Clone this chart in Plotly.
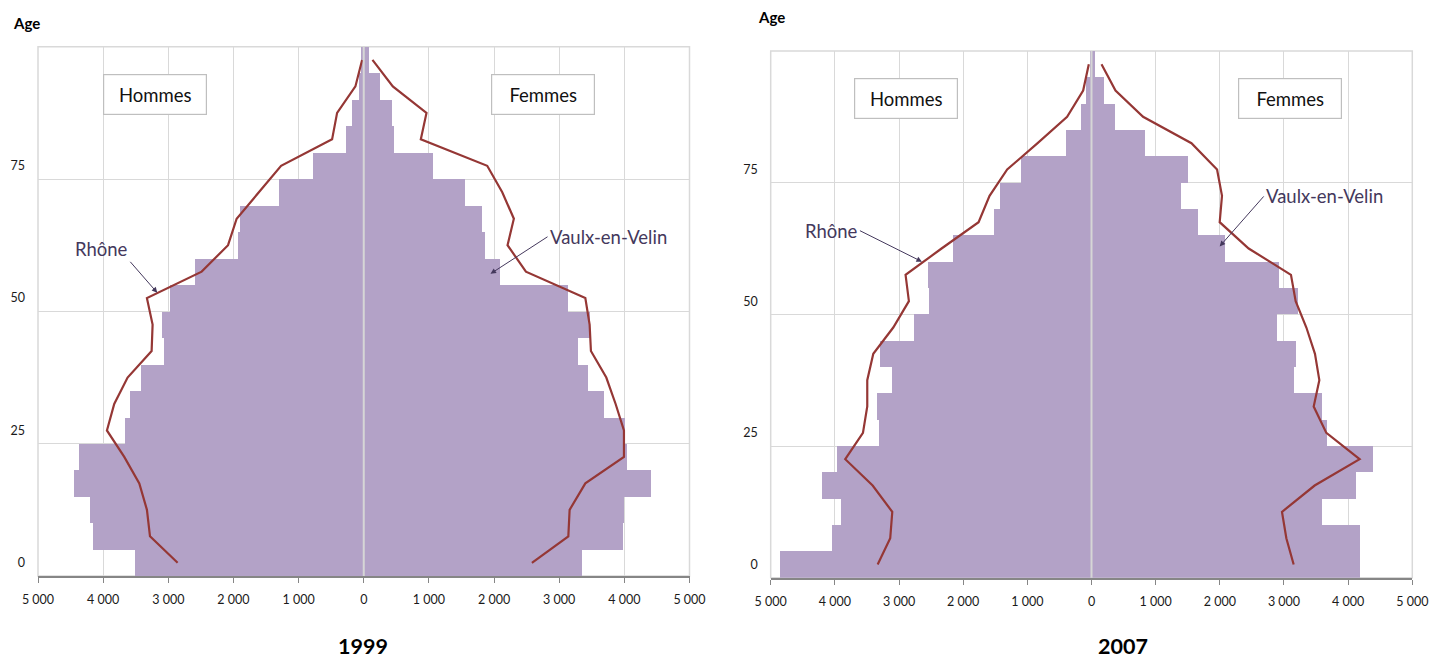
import plotly.graph_objects as go

# Age groups (lower bound of each 5-year band)
age_start = [0, 5, 10, 15, 20, 25, 30, 35, 40, 45, 50, 55, 60, 65, 70, 75, 80, 85, 90, 95]

# Vaulx-en-Velin population by age band
men_1999 = [3510, 4157, 4208, 4449, 4378, 3660, 3594, 3425, 3072, 3103,
            2969, 2585, 1925, 1894, 1306, 777, 266, 184, 66, 40]
women_1999 = [3349, 3979, 3989, 4409, 4046, 4015, 3687, 3436, 3283, 3480,
              3129, 2089, 1865, 1813, 1557, 1066, 467, 430, 256, 77]
men_2007 = [4866, 4045, 3910, 4206, 3972, 3313, 3344, 3121, 3297, 2773,
            2534, 2550, 2165, 1522, 1433, 1101, 405, 167, 89, 31]
women_2007 = [4174, 4174, 3583, 4117, 4382, 3665, 3583, 3146, 3182, 2882,
              3213, 2918, 2081, 1661, 1386, 1505, 830, 368, 187, 57]

# Rhône profile, rescaled to the same total
rhone_men_1999 = [2857, 3281, 3328, 3445, 3676, 3942, 3830, 3625, 3256, 3241,
                  3328, 2488, 2083, 1951, 1610, 1269, 486, 409, 128, 25]
rhone_women_1999 = [2581, 3140, 3160, 3401, 3994, 3994, 3866, 3723, 3487, 3467,
                    3401, 2489, 2207, 2304, 2126, 1895, 876, 963, 446, 134]
rhone_men_2007 = [3333, 3137, 3105, 3411, 3838, 3562, 3495, 3495, 3401, 3090,
                  2846, 2898, 2337, 1760, 1589, 1314, 840, 380, 130, 42]
rhone_women_2007 = [3151, 3037, 2969, 3478, 4179, 3660, 3463, 3551, 3483, 3349,
                    3182, 3109, 2450, 1998, 2034, 1957, 1558, 804, 374, 156]

x_ticks = [-5000, -4000, -3000, -2000, -1000, 0, 1000, 2000, 3000, 4000, 5000]
age_labels = ["0", "25", "50", "75"]

BAR = "#b3a2c7"
LINE = "#953735"
GRID = "#d9d9d9"
AXIS = "#868686"
NOTE = "#44385c"
FONT = "Lato, 'Open Sans', sans-serif"

band = 5
centers = [a + band / 2 for a in age_start]

fig = go.Figure()

panels = [
    ("x", "y", men_1999, women_1999, rhone_men_1999, rhone_women_1999),
    ("x2", "y2", men_2007, women_2007, rhone_men_2007, rhone_women_2007),
]
for xa, ya, men, women, r_men, r_women in panels:
    fig.add_trace(go.Bar(x=[-v for v in men], y=centers, orientation="h", width=band,
                         marker=dict(color=BAR, line=dict(width=0)),
                         xaxis=xa, yaxis=ya, hoverinfo="skip"))
    fig.add_trace(go.Bar(x=women, y=centers, orientation="h", width=band,
                         marker=dict(color=BAR, line=dict(width=0)),
                         xaxis=xa, yaxis=ya, hoverinfo="skip"))
    fig.add_trace(go.Scatter(x=[-v for v in r_men], y=centers, mode="lines",
                             line=dict(color=LINE, width=2.2),
                             xaxis=xa, yaxis=ya, hoverinfo="skip"))
    fig.add_trace(go.Scatter(x=r_women, y=centers, mode="lines",
                             line=dict(color=LINE, width=2.2),
                             xaxis=xa, yaxis=ya, hoverinfo="skip"))

x_text = [f"{abs(v):,}".replace(",", " ") for v in x_ticks]
label_pos = [int(t) + band / 2 for t in age_labels]


def xaxis_style(domain):
    return dict(domain=domain, range=[-5000, 5000], tickmode="array",
                tickvals=x_ticks, ticktext=x_text, showgrid=True,
                gridcolor=GRID, gridwidth=1, zeroline=False,
                showline=True, linecolor=AXIS, linewidth=2,
                ticks="outside", ticklen=5, tickcolor=AXIS, tickwidth=1,
                ticklabelstandoff=6, automargin=False,
                tickfont=dict(family=FONT, size=12.5, color="#1a1a1a"),
                fixedrange=True)


def yaxis_style(domain, anchor):
    return dict(domain=domain, anchor=anchor, range=[0, 100], tickmode="array",
                tickvals=label_pos, ticktext=age_labels, showgrid=False,
                zeroline=False, showline=False, ticks="",
                ticklabelstandoff=12, automargin=False,
                minor=dict(tickmode="array", tickvals=[25, 50, 75],
                           showgrid=True, gridcolor=GRID, gridwidth=1, ticks=""),
                tickfont=dict(family=FONT, size=12.5, color="#1a1a1a"),
                fixedrange=True)


fig.update_layout(
    width=1430, height=662,
    margin=dict(l=0, r=0, t=0, b=0, autoexpand=False),
    paper_bgcolor="white", plot_bgcolor="white",
    barmode="overlay", bargap=0, showlegend=False,
    font=dict(family=FONT),
    xaxis=xaxis_style([38 / 1430, 689.5 / 1430]) | dict(anchor="y"),
    yaxis=yaxis_style([86 / 662, 615.3 / 662], "x"),
    xaxis2=xaxis_style([770.7 / 1430, 1412.3 / 1430]) | dict(anchor="y2"),
    yaxis2=yaxis_style([84.3 / 662, 611 / 662], "x2"),
)

# Frame around each plot area and the central age axis
for xa, ya in [("x", "y"), ("x2", "y2")]:
    fig.add_shape(type="rect", xref=f"{xa} domain", yref=f"{ya} domain",
                  x0=0, x1=1, y0=0, y1=1, line=dict(color=GRID, width=1.5),
                  layer="below")
    fig.add_shape(type="line", xref=xa, yref=f"{ya} domain",
                  x0=0, x1=0, y0=0, y1=1, line=dict(color="#d6d6d6", width=2),
                  layer="above")

annotations = []
# Sex labels in boxes
for xa, ya, xh, xf, yb in [("x", "y", -3200, 2750, 91), ("x2", "y2", -2890, 3100, 91)]:
    for xpos, txt in [(xh, "Hommes"), (xf, "Femmes")]:
        annotations.append(dict(x=xpos, y=yb, xref=xa, yref=ya, text=txt,
                                showarrow=False, width=100, height=37,
                                bordercolor="#bfbfbf", borderwidth=1.2,
                                borderpad=1, bgcolor="white",
                                font=dict(family=FONT, size=18.5, color="#111111")))

# Series call-outs
callouts = [
    ("x", "y", -3169, 53.5, -27, -31, "Rhône", "right", "bottom"),
    ("x", "y", 1946, 57.1, 57, -37, "Vaulx-en-Velin", "left", "middle"),
    ("x2", "y2", -2643, 60.0, -62, -31, "Rhône", "right", "middle"),
    ("x2", "y2", 1998, 62.9, 44, -50, "Vaulx-en-Velin", "left", "middle"),
]
for xa, ya, hx, hy, ax, ay, txt, xan, yan in callouts:
    annotations.append(dict(x=hx, y=hy, xref=xa, yref=ya, ax=ax, ay=ay,
                            text=txt, showarrow=True, arrowhead=2,
                            arrowsize=1.1, arrowwidth=1, arrowcolor=NOTE,
                            xanchor=xan, yanchor=yan,
                            font=dict(family=FONT, size=18.5, color=NOTE)))

# Axis captions and panel years
for xp, yp, txt, size in [(26, 23, "Age", 15), (771.5, 17, "Age", 15),
                          (363, 646, "1999", 21.5), (1123, 646, "2007", 21.5)]:
    annotations.append(dict(x=xp / 1430, y=1 - yp / 662, xref="paper", yref="paper",
                            text=f"<b>{txt}</b>", showarrow=False,
                            xanchor="center", yanchor="middle", borderpad=0,
                            font=dict(family=FONT, size=size, color="#000000")))

fig.update_layout(annotations=annotations)

fig.write_html("out.html")
